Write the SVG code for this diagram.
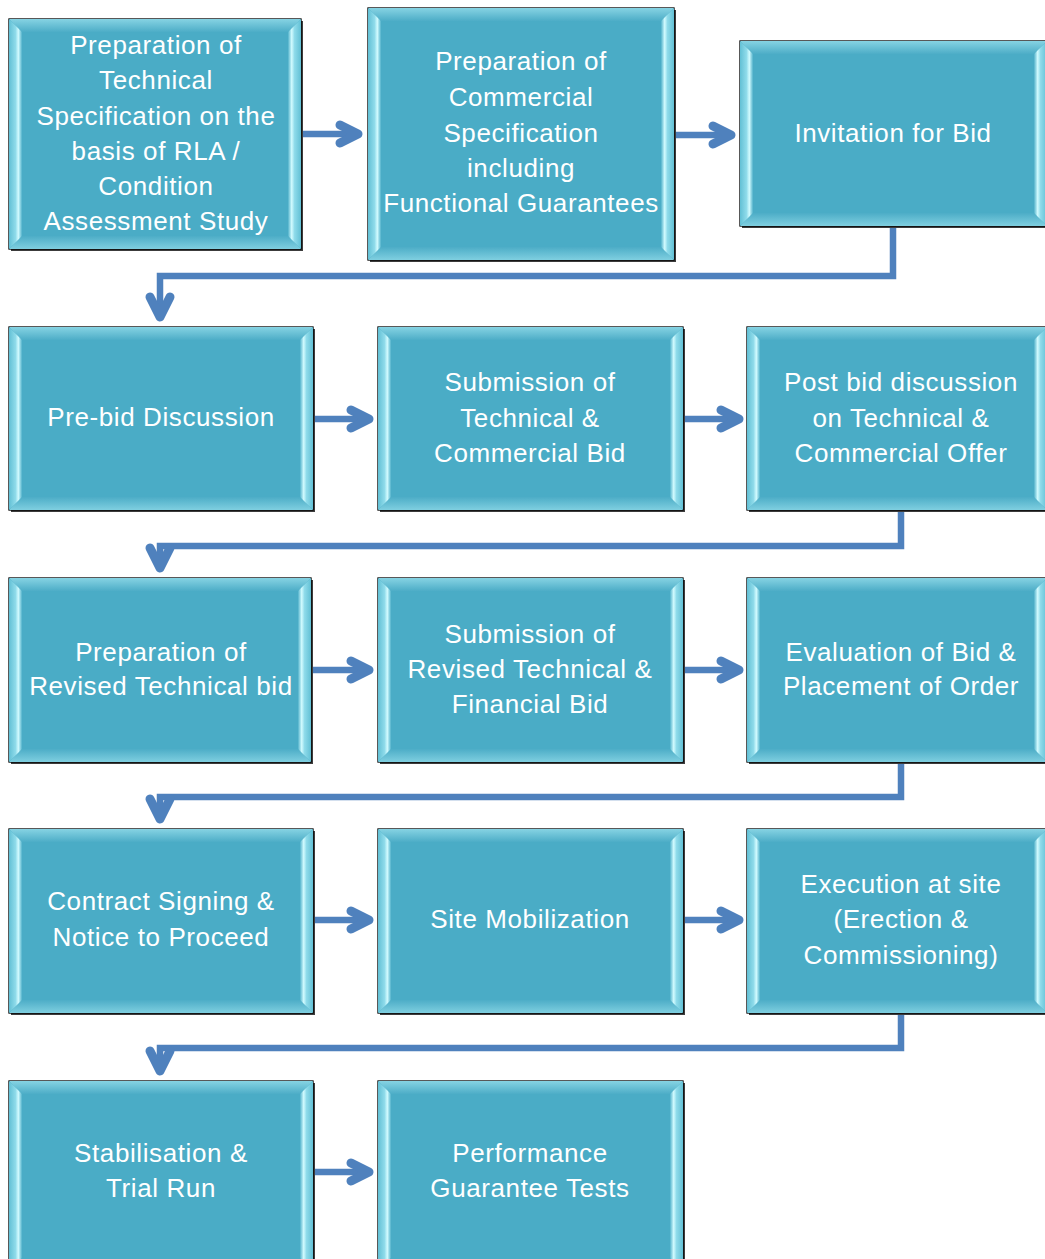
<svg xmlns="http://www.w3.org/2000/svg" width="1045" height="1259" viewBox="0 0 1045 1259">
<defs>
<linearGradient id="gl" x1="0" y1="0" x2="1" y2="0">
<stop offset="0" stop-color="#62c0d5"/><stop offset="0.5" stop-color="#8fdbea"/><stop offset="0.72" stop-color="#d2fbff"/><stop offset="1" stop-color="#52b2cb"/>
</linearGradient>
<linearGradient id="gr" x1="1" y1="0" x2="0" y2="0">
<stop offset="0" stop-color="#62c0d5"/><stop offset="0.5" stop-color="#8fdbea"/><stop offset="0.72" stop-color="#d2fbff"/><stop offset="1" stop-color="#52b2cb"/>
</linearGradient>
<linearGradient id="gt" x1="0" y1="0" x2="0" y2="1">
<stop offset="0" stop-color="#86d3e3"/><stop offset="1" stop-color="#4dadc7"/>
</linearGradient>
<linearGradient id="gb" x1="0" y1="1" x2="0" y2="0">
<stop offset="0" stop-color="#7fcfe0"/><stop offset="1" stop-color="#4dadc7"/>
</linearGradient>
</defs>
<style>
.sh{fill:#3c3c3c}
.box{fill:#4aacc6;stroke:#000;stroke-width:1.3}
.bl{fill:url(#gl)}
.br{fill:url(#gr)}
.bt{fill:url(#gt)}
.bb{fill:url(#gb)}
text{font-family:"Liberation Sans",Arial,sans-serif;font-size:26px;fill:#fff;text-anchor:middle;letter-spacing:0.6px}
.ln{fill:none;stroke:#4f81bd;stroke-width:6.5}
.hd{fill:none;stroke:#4f81bd;stroke-width:9;stroke-linecap:round;stroke-linejoin:round}
</style>
<rect width="1045" height="1259" fill="#fff"/>

<g id="connectors">
<path class="ln" d="M301,134 H355"/><polyline class="hd" points="340,125 358,134 340,143"/>
<path class="ln" d="M674,135 H728"/><polyline class="hd" points="713,126 731,135 713,144"/>
<path class="ln" d="M893,226 V276 H160 V315"/><polyline class="hd" points="150,297 160,317 170,297"/>
<path class="ln" d="M313,419 H366"/><polyline class="hd" points="351,410 369,419 351,428"/>
<path class="ln" d="M683,419 H736"/><polyline class="hd" points="721,410 739,419 721,428"/>
<path class="ln" d="M901,510 V546 H160 V566"/><polyline class="hd" points="150,548 160,568 170,548"/>
<path class="ln" d="M311,670 H366"/><polyline class="hd" points="351,661 369,670 351,679"/>
<path class="ln" d="M683,670 H736"/><polyline class="hd" points="721,661 739,670 721,679"/>
<path class="ln" d="M901,762 V797 H160 V817"/><polyline class="hd" points="150,799 160,819 170,799"/>
<path class="ln" d="M313,920 H366"/><polyline class="hd" points="351,911 369,920 351,929"/>
<path class="ln" d="M683,920 H736"/><polyline class="hd" points="721,911 739,920 721,929"/>
<path class="ln" d="M901,1013 V1048 H160 V1069"/><polyline class="hd" points="150,1051 160,1071 170,1051"/>
<path class="ln" d="M313,1172 H366"/><polyline class="hd" points="351,1163 369,1172 351,1181"/>
</g>

<g id="n1">
<rect class="sh" x="11" y="21" width="292" height="230"/>
<rect class="box" x="9" y="19" width="292" height="230"/>
<polygon class="bt" points="9,19 301,19 288,32 22,32"/>
<polygon class="bb" points="9,249 22,236 288,236 301,249"/>
<polygon class="bl" points="9,19 22,32 22,236 9,249"/>
<polygon class="br" points="301,19 288,32 288,236 301,249"/>
<text x="156" y="54">Preparation of</text>
<text x="156" y="89">Technical</text>
<text x="156" y="125">Specification on the</text>
<text x="156" y="160">basis of RLA /</text>
<text x="156" y="195">Condition</text>
<text x="156" y="230">Assessment Study</text>
</g>

<g id="n2">
<rect class="sh" x="370" y="10" width="306" height="252"/>
<rect class="box" x="368" y="8" width="306" height="252"/>
<polygon class="bt" points="368,8 674,8 661,21 381,21"/>
<polygon class="bb" points="368,260 381,247 661,247 674,260"/>
<polygon class="bl" points="368,8 381,21 381,247 368,260"/>
<polygon class="br" points="674,8 661,21 661,247 674,260"/>
<text x="521" y="70">Preparation of</text>
<text x="521" y="106">Commercial</text>
<text x="521" y="142">Specification</text>
<text x="521" y="177">including</text>
<text x="521" y="212">Functional Guarantees</text>
</g>

<g id="n3">
<rect class="sh" x="742" y="43" width="307" height="185"/>
<rect class="box" x="740" y="41" width="307" height="185"/>
<polygon class="bt" points="740,41 1047,41 1034,54 753,54"/>
<polygon class="bb" points="740,226 753,213 1034,213 1047,226"/>
<polygon class="bl" points="740,41 753,54 753,213 740,226"/>
<polygon class="br" points="1047,41 1034,54 1034,213 1047,226"/>
<text x="893" y="142">Invitation for Bid</text>
</g>

<g id="n4">
<rect class="sh" x="11" y="329" width="304" height="183"/>
<rect class="box" x="9" y="327" width="304" height="183"/>
<polygon class="bt" points="9,327 313,327 300,340 22,340"/>
<polygon class="bb" points="9,510 22,497 300,497 313,510"/>
<polygon class="bl" points="9,327 22,340 22,497 9,510"/>
<polygon class="br" points="313,327 300,340 300,497 313,510"/>
<text x="161" y="426">Pre-bid Discussion</text>
</g>

<g id="n5">
<rect class="sh" x="380" y="329" width="305" height="183"/>
<rect class="box" x="378" y="327" width="305" height="183"/>
<polygon class="bt" points="378,327 683,327 670,340 391,340"/>
<polygon class="bb" points="378,510 391,497 670,497 683,510"/>
<polygon class="bl" points="378,327 391,340 391,497 378,510"/>
<polygon class="br" points="683,327 670,340 670,497 683,510"/>
<text x="530" y="391">Submission of</text>
<text x="530" y="427">Technical &amp;</text>
<text x="530" y="462">Commercial Bid</text>
</g>

<g id="n6">
<rect class="sh" x="749" y="329" width="300" height="183"/>
<rect class="box" x="747" y="327" width="300" height="183"/>
<polygon class="bt" points="747,327 1047,327 1034,340 760,340"/>
<polygon class="bb" points="747,510 760,497 1034,497 1047,510"/>
<polygon class="bl" points="747,327 760,340 760,497 747,510"/>
<polygon class="br" points="1047,327 1034,340 1034,497 1047,510"/>
<text x="901" y="391">Post bid discussion</text>
<text x="901" y="427">on Technical &amp;</text>
<text x="901" y="462">Commercial Offer</text>
</g>

<g id="n7">
<rect class="sh" x="11" y="580" width="302" height="184"/>
<rect class="box" x="9" y="578" width="302" height="184"/>
<polygon class="bt" points="9,578 311,578 298,591 22,591"/>
<polygon class="bb" points="9,762 22,749 298,749 311,762"/>
<polygon class="bl" points="9,578 22,591 22,749 9,762"/>
<polygon class="br" points="311,578 298,591 298,749 311,762"/>
<text x="161" y="661">Preparation of</text>
<text x="161" y="695">Revised Technical bid</text>
</g>

<g id="n8">
<rect class="sh" x="380" y="580" width="305" height="184"/>
<rect class="box" x="378" y="578" width="305" height="184"/>
<polygon class="bt" points="378,578 683,578 670,591 391,591"/>
<polygon class="bb" points="378,762 391,749 670,749 683,762"/>
<polygon class="bl" points="378,578 391,591 391,749 378,762"/>
<polygon class="br" points="683,578 670,591 670,749 683,762"/>
<text x="530" y="643">Submission of</text>
<text x="530" y="678">Revised Technical &amp;</text>
<text x="530" y="713">Financial Bid</text>
</g>

<g id="n9">
<rect class="sh" x="749" y="580" width="300" height="184"/>
<rect class="box" x="747" y="578" width="300" height="184"/>
<polygon class="bt" points="747,578 1047,578 1034,591 760,591"/>
<polygon class="bb" points="747,762 760,749 1034,749 1047,762"/>
<polygon class="bl" points="747,578 760,591 760,749 747,762"/>
<polygon class="br" points="1047,578 1034,591 1034,749 1047,762"/>
<text x="901" y="661">Evaluation of Bid &amp;</text>
<text x="901" y="695">Placement of Order</text>
</g>

<g id="n10">
<rect class="sh" x="11" y="831" width="304" height="184"/>
<rect class="box" x="9" y="829" width="304" height="184"/>
<polygon class="bt" points="9,829 313,829 300,842 22,842"/>
<polygon class="bb" points="9,1013 22,1000 300,1000 313,1013"/>
<polygon class="bl" points="9,829 22,842 22,1000 9,1013"/>
<polygon class="br" points="313,829 300,842 300,1000 313,1013"/>
<text x="161" y="910">Contract Signing &amp;</text>
<text x="161" y="946">Notice to Proceed</text>
</g>

<g id="n11">
<rect class="sh" x="380" y="831" width="305" height="184"/>
<rect class="box" x="378" y="829" width="305" height="184"/>
<polygon class="bt" points="378,829 683,829 670,842 391,842"/>
<polygon class="bb" points="378,1013 391,1000 670,1000 683,1013"/>
<polygon class="bl" points="378,829 391,842 391,1000 378,1013"/>
<polygon class="br" points="683,829 670,842 670,1000 683,1013"/>
<text x="530" y="928">Site Mobilization</text>
</g>

<g id="n12">
<rect class="sh" x="749" y="831" width="300" height="184"/>
<rect class="box" x="747" y="829" width="300" height="184"/>
<polygon class="bt" points="747,829 1047,829 1034,842 760,842"/>
<polygon class="bb" points="747,1013 760,1000 1034,1000 1047,1013"/>
<polygon class="bl" points="747,829 760,842 760,1000 747,1013"/>
<polygon class="br" points="1047,829 1034,842 1034,1000 1047,1013"/>
<text x="901" y="893">Execution at site</text>
<text x="901" y="928">(Erection &amp;</text>
<text x="901" y="964">Commissioning)</text>
</g>

<g id="n13">
<rect class="sh" x="11" y="1083" width="304" height="190"/>
<rect class="box" x="9" y="1081" width="304" height="190"/>
<polygon class="bt" points="9,1081 313,1081 300,1094 22,1094"/>
<polygon class="bl" points="9,1081 22,1094 22,1258 9,1271"/>
<polygon class="br" points="313,1081 300,1094 300,1258 313,1271"/>
<text x="161" y="1162">Stabilisation &amp;</text>
<text x="161" y="1197">Trial Run</text>
</g>

<g id="n14">
<rect class="sh" x="380" y="1083" width="305" height="190"/>
<rect class="box" x="378" y="1081" width="305" height="190"/>
<polygon class="bt" points="378,1081 683,1081 670,1094 391,1094"/>
<polygon class="bl" points="378,1081 391,1094 391,1258 378,1271"/>
<polygon class="br" points="683,1081 670,1094 670,1258 683,1271"/>
<text x="530" y="1162">Performance</text>
<text x="530" y="1197">Guarantee Tests</text>
</g>
</svg>
